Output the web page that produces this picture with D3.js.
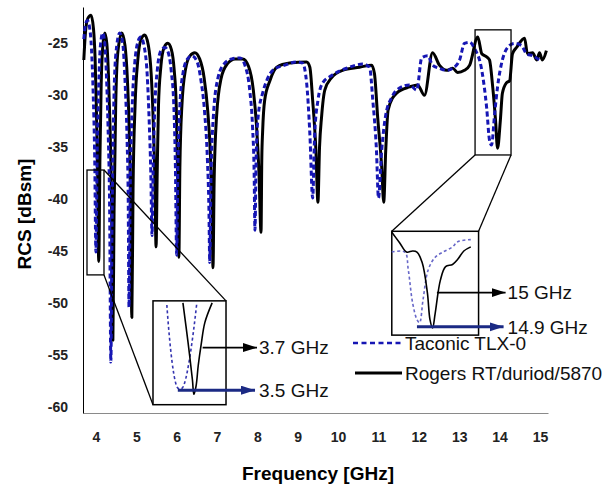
<!DOCTYPE html>
<html>
<head>
<meta charset="utf-8">
<script src="https://cdn.jsdelivr.net/npm/d3@7"></script>
<style>
body { margin: 0; background: #fff; }
svg { display: block; font-family: "Liberation Sans", Arial, sans-serif; }
</style>
</head>
<body>
<script>
'use strict';

const xTicks = [4, 5, 6, 7, 8, 9, 10, 11, 12, 13, 14, 15];
const yTicks = [-25, -30, -35, -40, -45, -50, -55, -60];
const seriesNames = ["Taconic TLX-0", "Rogers RT/duriod/5870"];

// [frequency GHz, RCS dBsm]
const rogers = [
    [3.70,-26.6],[3.74,-24.0],[3.80,-22.6],[3.88,-22.3],[3.94,-23.6],[3.98,-26.5],[4.01,-31],[4.04,-37],[4.07,-46],
    [4.10,-36],[4.13,-29],[4.17,-25.3],[4.22,-24.0],[4.27,-25.0],[4.31,-28],[4.35,-33],[4.39,-41],[4.42,-53.6],
    [4.45,-41],[4.49,-31],[4.54,-26],[4.64,-24.0],[4.72,-25.2],[4.78,-28.5],[4.83,-34],[4.86,-40],[4.89,-51.4],
    [4.92,-39],[4.97,-31],[5.04,-26.5],[5.12,-24.6],[5.21,-24.2],[5.30,-25.2],[5.37,-28],[5.42,-32.5],[5.46,-38],[5.49,-44.6],
    [5.52,-37],[5.55,-31],[5.61,-27.2],[5.69,-25.4],[5.78,-25.0],[5.87,-25.6],[5.94,-27.6],[5.99,-31],[6.02,-37],[6.055,-45.6],
    [6.08,-37],[6.13,-31],[6.22,-27.5],[6.33,-26.2],[6.45,-25.9],[6.57,-26.5],[6.68,-28.3],[6.77,-31.5],[6.84,-36],[6.88,-41],[6.90,-46.6],
    [6.93,-38],[6.99,-32],[7.10,-28.4],[7.25,-27.0],[7.45,-26.5],[7.64,-26.5],[7.78,-27.2],[7.90,-29.5],[7.98,-33],[8.04,-37.5],[8.09,-43.2],
    [8.11,-36],[8.13,-33.5],[8.18,-30.5],[8.31,-28.6],[8.48,-27.3],[8.80,-26.9],[9.22,-26.8],[9.30,-27.3],[9.37,-30.5],[9.45,-35.3],[9.50,-40.3],
    [9.54,-35],[9.59,-32.1],[9.67,-29.5],[9.84,-28.3],[10.11,-27.6],[10.53,-27.3],[10.83,-27.1],[10.90,-27.9],[10.98,-32.1],[11.08,-36.9],[11.13,-40.3],
    [11.18,-35.3],[11.24,-31.4],[11.45,-29.8],[11.77,-29.2],[11.97,-29.0],[12.14,-30.0],[12.34,-25.9],[12.51,-27.1],[12.69,-27.6],
    [12.84,-27.4],[12.96,-27.8],[13.13,-27.6],[13.26,-27.1],[13.46,-24.4],[13.56,-26.0],[13.68,-26.3],[13.75,-26.6],[13.83,-29.2],
    [13.90,-32.4],[13.95,-35.1],[14.02,-32.4],[14.07,-29.8],[14.17,-28.8],[14.25,-28.6],[14.32,-26.0],[14.42,-25.4],[14.62,-24.5],
    [14.69,-26.0],[14.82,-25.9],[14.92,-26.6],[14.99,-25.9],[15.06,-26.6],[15.16,-25.7]
];

const taconic = [
    [3.70,-24.6],[3.74,-23.2],[3.79,-22.8],[3.84,-23.4],[3.89,-25.5],[3.93,-29.5],[3.97,-36],[4.00,-45.1],
    [4.03,-36],[4.07,-29],[4.11,-25.3],[4.17,-24.0],[4.22,-25.0],[4.26,-28],[4.30,-33],[4.34,-41],[4.37,-55.7],
    [4.40,-42],[4.44,-31.5],[4.49,-26.2],[4.59,-24.0],[4.67,-25.2],[4.72,-28.5],[4.77,-34],[4.80,-40],[4.82,-50.4],
    [4.85,-39],[4.90,-31],[4.96,-27],[5.03,-25],[5.11,-24.4],[5.20,-25.4],[5.27,-28],[5.32,-32.5],[5.36,-37.5],[5.39,-43.5],
    [5.42,-36.5],[5.46,-31],[5.52,-27.6],[5.61,-25.7],[5.71,-25.4],[5.80,-26],[5.87,-27.8],[5.93,-31],[5.97,-37],[6.00,-45.4],
    [6.03,-37],[6.08,-31],[6.16,-27.8],[6.27,-26.5],[6.38,-26.2],[6.50,-26.7],[6.60,-28.5],[6.69,-31.5],[6.76,-36],[6.80,-41],[6.82,-46.1],
    [6.85,-38],[6.91,-32],[7.02,-28.4],[7.17,-27.0],[7.37,-26.5],[7.57,-26.4],[7.70,-27.2],[7.81,-29.5],[7.88,-33],[7.92,-37.5],[7.94,-43.0],
    [7.97,-36],[8.02,-32],[8.13,-29.8],[8.23,-28.6],[8.38,-27.6],[8.68,-27.1],[8.98,-26.8],[9.12,-26.9],[9.22,-28.8],[9.30,-33.7],[9.37,-39.9],
    [9.42,-33.7],[9.50,-30.5],[9.62,-28.8],[9.84,-28.1],[10.21,-27.4],[10.61,-27.0],[10.78,-27.3],[10.86,-30.5],[10.95,-35.3],[11.00,-39.9],
    [11.08,-35.3],[11.18,-31.9],[11.33,-30.2],[11.52,-29.3],[11.77,-29.0],[11.95,-29.5],[12.07,-26.4],[12.22,-26.2],[12.34,-27.1],
    [12.51,-27.4],[12.69,-27.6],[12.84,-27.4],[13.01,-26.6],[13.13,-25.0],[13.26,-24.9],[13.38,-25.5],[13.56,-27.6],[13.68,-31.2],
    [13.75,-34.3],[13.80,-34.8],[13.88,-31.7],[13.95,-29.2],[14.07,-26.6],[14.25,-25.2],[14.37,-25.0],[14.54,-25.2],[14.67,-26.0],
    [14.82,-26.2],[14.99,-26.6]
];

// zoomed insets, local coordinates (0..1 across / down the inset box)
const lowInsetTaconic = [[0.19,0.04],[0.34,0.84],[0.40,0.84],[0.60,0.02]];
const lowInsetRogers = [[0.41,0.02],[0.48,0.40],[0.54,0.76],[0.56,0.90],[0.59,0.82],[0.62,0.62],[0.66,0.42],[0.71,0.21],[0.81,0.02]];
const highInsetRogers = [[0,0.01],[0.09,0.11],[0.17,0.20],[0.24,0.19],[0.29,0.20],[0.35,0.30],[0.41,0.59],[0.44,0.85],
    [0.47,0.93],[0.50,0.79],[0.56,0.47],[0.62,0.34],[0.70,0.32],[0.76,0.27],[0.83,0.19],[0.91,0.15]];
const highInsetTaconic = [[0,0.20],[0.15,0.20],[0.19,0.37],[0.24,0.69],[0.29,0.85],[0.32,0.88],[0.36,0.66],[0.42,0.37],
    [0.50,0.25],[0.59,0.20],[0.70,0.15],[0.76,0.10],[0.91,0.08]];
const lowLabels = ["3.7 GHz", "3.5 GHz"];
const highLabels = ["15 GHz", "14.9 GHz"];

const W = 611, H = 487;
const margin = {top: 7, right: 63, bottom: 74, left: 83};

const svg = d3.select("body").append("svg").attr("width", W).attr("height", H);

const x = d3.scaleLinear().domain([3.68, 15.2]).range([margin.left, W - margin.right]);
const y = d3.scaleLinear().domain([-60.6, -21.5]).range([H - margin.bottom, margin.top]);

const blue = "#1616b4";
const navy = "#1b2a84";

const defs = svg.append("defs");
function arrowMarker(id, color) {
    defs.append("marker")
        .attr("id", id)
        .attr("markerUnits", "userSpaceOnUse")
        .attr("markerWidth", 15).attr("markerHeight", 10)
        .attr("refX", 14).attr("refY", 4.5)
        .attr("orient", "auto")
        .append("path").attr("d", "M0,0 L14,4.5 L0,9 Z").attr("fill", color);
}
arrowMarker("arBlack", "#000");
arrowMarker("arNavy", navy);

// axes
const xAxis = svg.append("g")
    .attr("transform", `translate(0,${H - margin.bottom})`)
    .call(d3.axisBottom(x).tickValues(xTicks).tickSize(0).tickSizeOuter(0).tickPadding(19).tickFormat(d => String(d)));
xAxis.select(".domain").attr("stroke", "#8a8a8a");

const yAxis = svg.append("g")
    .attr("transform", `translate(${margin.left},0)`)
    .call(d3.axisLeft(y).tickValues(yTicks).tickSize(0).tickSizeOuter(0).tickPadding(15).tickFormat(d => String(d)));
yAxis.select(".domain").attr("stroke", "#000");

svg.selectAll(".tick text")
    .attr("font-family", "'Liberation Sans', Arial, sans-serif")
    .attr("font-size", 14).attr("font-weight", "bold").attr("fill", "#222");

svg.append("text")
    .attr("x", 318).attr("y", 480)
    .attr("text-anchor", "middle")
    .attr("font-size", 19).attr("font-weight", "bold")
    .text("Frequency [GHz]");

svg.append("text")
    .attr("transform", "translate(31,214) rotate(-90)")
    .attr("text-anchor", "middle")
    .attr("font-size", 19).attr("font-weight", "bold")
    .text("RCS [dBsm]");

// curves
const line = d3.line().x(d => x(d[0])).y(d => y(d[1])).curve(d3.curveMonotoneX);

svg.append("path").datum(rogers)
    .attr("d", line).attr("fill", "none")
    .attr("stroke", "#000").attr("stroke-width", 3).attr("stroke-linejoin", "round");

svg.append("path").datum(taconic)
    .attr("d", line).attr("fill", "none")
    .attr("stroke", blue).attr("stroke-width", 3).attr("stroke-dasharray", "5,3");

// insets
function inset(src, dst, links, rog, tac, tacColor, labels, arrowRog, arrowTac, tipGap) {
    const sx0 = x(src.f[0]), sx1 = x(src.f[1]), sy0 = y(src.db[0]), sy1 = y(src.db[1]);
    const bx0 = x(dst.f[0]), bx1 = x(dst.f[1]), by0 = y(dst.db[0]), by1 = y(dst.db[1]);
    const g = svg.append("g");
    const sPt = {tl: [sx0, sy0], tr: [sx1, sy0], bl: [sx0, sy1], br: [sx1, sy1]};
    const bPt = {tl: [bx0, by0], tr: [bx1, by0], bl: [bx0, by1], br: [bx1, by1]};
    links.forEach(l => {
        g.append("line")
            .attr("x1", sPt[l[0]][0]).attr("y1", sPt[l[0]][1])
            .attr("x2", bPt[l[1]][0]).attr("y2", bPt[l[1]][1])
            .attr("stroke", "#000").attr("stroke-width", 1.3);
    });
    g.append("rect").attr("x", sx0).attr("y", sy0).attr("width", sx1 - sx0).attr("height", sy1 - sy0)
        .attr("fill", "none").attr("stroke", "#000").attr("stroke-width", 1.3);
    g.append("rect").attr("x", bx0).attr("y", by0).attr("width", bx1 - bx0).attr("height", by1 - by0)
        .attr("fill", "#fff").attr("stroke", "#000").attr("stroke-width", 1.5);

    const ix = d3.scaleLinear().domain([0, 1]).range([bx0, bx1]);
    const iy = d3.scaleLinear().domain([0, 1]).range([by0, by1]);
    const il = d3.line().x(d => ix(d[0])).y(d => iy(d[1])).curve(d3.curveCatmullRom.alpha(0.5));

    g.append("path").datum(tac).attr("d", il).attr("fill", "none")
        .attr("stroke", tacColor).attr("stroke-width", 1.6).attr("stroke-dasharray", "3,2.5");
    g.append("path").datum(rog).attr("d", il).attr("fill", "none")
        .attr("stroke", "#000").attr("stroke-width", 1.6);

    const tip = bx1 + tipGap;
    g.append("line")
        .attr("x1", ix(arrowRog[0])).attr("y1", iy(arrowRog[1]))
        .attr("x2", tip).attr("y2", iy(arrowRog[1]))
        .attr("stroke", "#000").attr("stroke-width", 1.8).attr("marker-end", "url(#arBlack)");
    g.append("line")
        .attr("x1", ix(arrowTac[0])).attr("y1", iy(arrowTac[1]))
        .attr("x2", tip - 2).attr("y2", iy(arrowTac[1]))
        .attr("stroke", navy).attr("stroke-width", 3).attr("marker-end", "url(#arNavy)");

    g.append("text").attr("x", tip + 2).attr("y", iy(arrowRog[1])).attr("dy", "0.36em")
        .attr("font-size", 19).attr("fill", "#111").text(labels[0]);
    g.append("text").attr("x", tip + 2).attr("y", iy(arrowTac[1])).attr("dy", "0.36em")
        .attr("font-size", 19).attr("fill", "#111").text(labels[1]);
}

inset({f: [3.779, 4.20], db: [-37.2, -47.3]}, {f: [5.414, 7.223], db: [-49.8, -59.8]},
    [["tr", "tr"], ["br", "bl"]], lowInsetRogers, lowInsetTaconic, "#3434b0",
    lowLabels, [0.68, 0.45], [0.34, 0.86], 31);

inset({f: [13.393, 14.284], db: [-23.7, -35.75]}, {f: [11.33, 13.48], db: [-43.1, -53.1]},
    [["bl", "tl"], ["br", "tr"]], highInsetRogers, highInsetTaconic, "#6767c8",
    highLabels, [0.52, 0.59], [0.29, 0.92], 27);

// legend
const legend = svg.append("g");
const legendY = [343, 373];
legend.append("line").attr("x1", 353).attr("x2", 402).attr("y1", legendY[0]).attr("y2", legendY[0])
    .attr("stroke", blue).attr("stroke-width", 2.5).attr("stroke-dasharray", "5,3.5");
legend.append("line").attr("x1", 355).attr("x2", 402).attr("y1", legendY[1]).attr("y2", legendY[1])
    .attr("stroke", "#000").attr("stroke-width", 3);
seriesNames.forEach((n, i) => {
    legend.append("text").attr("x", 405).attr("y", legendY[i]).attr("dy", "0.36em")
        .attr("font-size", 19).attr("fill", "#111").text(n);
});
</script>
</body>
</html>
